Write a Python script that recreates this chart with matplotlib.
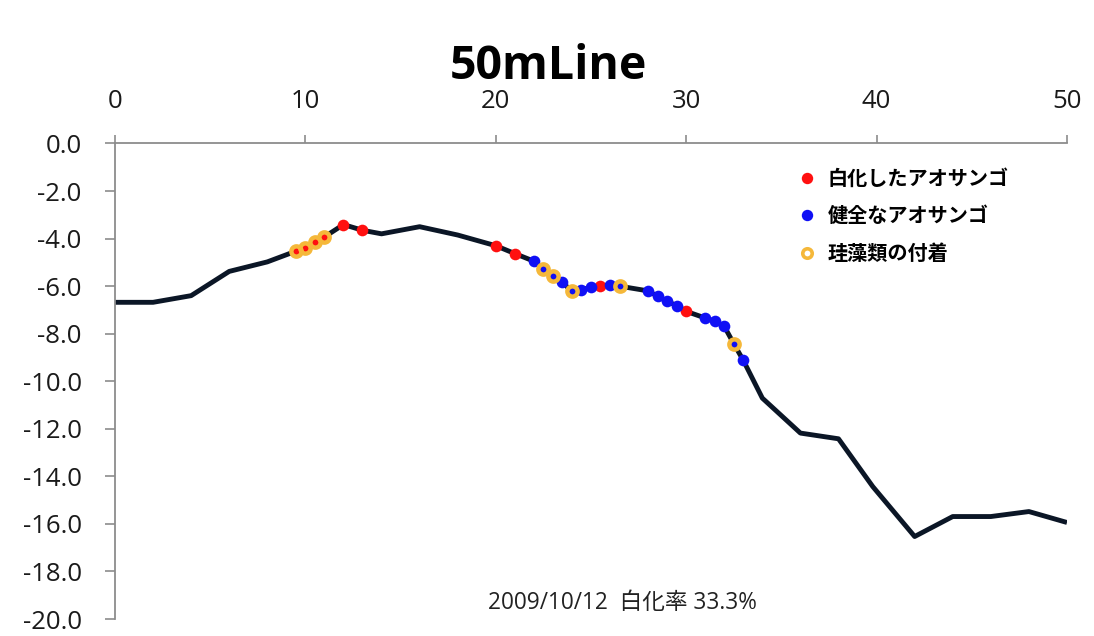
import matplotlib
matplotlib.use("Agg")
import matplotlib.pyplot as plt
from matplotlib.lines import Line2D

# ---- data (distance along line [m], depth [m]) ----
profile_x = [0, 2, 4, 6, 8, 9.5, 10, 10.5, 11, 12, 13, 14, 16, 18, 20, 21, 22, 22.5, 23,
             23.5, 24, 24.5, 25, 25.5, 26, 26.5, 28, 28.5, 29, 29.5, 30, 31, 31.5, 32,
             32.5, 33, 34, 36, 38, 39.8, 42, 44, 46, 48, 50]
profile_depth = [-6.68, -6.68, -6.4, -5.38, -4.98, -4.53, -4.39, -4.15, -3.93, -3.41, -3.65,
                 -3.8, -3.5, -3.85, -4.3, -4.63, -4.95, -5.28, -5.56, -5.84, -6.22, -6.15,
                 -6.05, -6.0, -5.94, -6.0, -6.2, -6.43, -6.64, -6.82, -7.06, -7.34, -7.48,
                 -7.69, -8.42, -9.12, -10.71, -12.18, -12.42, -14.43, -16.53, -15.69,
                 -15.69, -15.48, -15.94]

bleached_x = [9.5, 10, 10.5, 11, 12, 13, 20, 21, 25.5, 30]
bleached_depth = [-4.53, -4.39, -4.15, -3.93, -3.41, -3.65, -4.3, -4.63, -6.0, -7.06]

healthy_x = [22, 22.5, 23, 23.5, 24, 24.5, 25, 26, 26.5, 28, 28.5, 29, 29.5, 31, 31.5,
             32, 32.5, 33]
healthy_depth = [-4.95, -5.28, -5.56, -5.84, -6.22, -6.15, -6.05, -5.94, -6.0, -6.2, -6.43,
                 -6.64, -6.82, -7.34, -7.48, -7.69, -8.42, -9.12]

diatom_x = [9.5, 10, 10.5, 11, 22.5, 23, 24, 26.5, 32.5]
diatom_depth = [-4.53, -4.39, -4.15, -3.93, -5.28, -5.56, -6.22, -6.0, -8.42]

x_ticks = [0, 10, 20, 30, 40, 50]
y_ticks = [0, -2, -4, -6, -8, -10, -12, -14, -16, -18, -20]

title = "50mLine"
legend_labels = ["白化したアオサンゴ", "健全なアオサンゴ", "珪藻類の付着"]
footer = "2009/10/12  白化率 33.3%"

# ---- style ----
FONTS = ["Open Sans", "Noto Sans CJK JP", "DejaVu Sans"]
plt.rcParams["font.family"] = FONTS

RED = "#FF1010"
BLUE = "#1010F5"
ORANGE = "#F5B83A"
LINE = "#0B1626"
SPINE = "#8C8C8C"

fig = plt.figure(figsize=(10.94, 6.36), dpi=100)
ax = fig.add_axes([0.1051, 0.0267, 0.8702, 0.7477])

ax.plot(profile_x, profile_depth, color=LINE, lw=3.5, solid_joinstyle="round",
        solid_capstyle="butt", zorder=2)
ax.plot(bleached_x, bleached_depth, ls="none", marker="o", ms=8.4, mfc=RED, mec=RED,
        mew=0, zorder=3)
ax.plot(healthy_x, healthy_depth, ls="none", marker="o", ms=8.4, mfc=BLUE, mec=BLUE,
        mew=0, zorder=3)
ax.plot(diatom_x, diatom_depth, ls="none", marker="o", ms=7.4, mfc="none", mec=ORANGE,
        mew=3.2, zorder=4)

ax.set_xlim(0, 50)
ax.set_ylim(-20, 0)
ax.set_xticks(x_ticks)
ax.set_yticks(y_ticks)
ax.set_yticklabels([f"{v:.1f}" for v in y_ticks])
ax.xaxis.tick_top()

for s in ["right", "bottom"]:
    ax.spines[s].set_visible(False)
for s in ["left", "top"]:
    ax.spines[s].set_color(SPINE)
    ax.spines[s].set_linewidth(1.3)

ax.tick_params(axis="y", direction="out", length=7, width=1.2, color=SPINE,
               labelsize=18.5, pad=17, labelcolor="#1a1a1a")
ax.tick_params(axis="x", direction="out", length=6, width=1.2, color=SPINE,
               labelsize=18.5, pad=15, labelcolor="#1a1a1a")

handles = [
    Line2D([], [], ls="none", marker="o", ms=8.2, mfc=RED, mec=RED, mew=0),
    Line2D([], [], ls="none", marker="o", ms=8.2, mfc=BLUE, mec=BLUE, mew=0),
    Line2D([], [], ls="none", marker="o", ms=6.8, mfc="none", mec=ORANGE, mew=2.6),
]
leg = ax.legend(handles, legend_labels, loc="upper left",
                bbox_to_anchor=(0.697, 0.987), frameon=False,
                handlelength=1.0, handletextpad=0.55, labelspacing=0.82,
                prop={"family": ["Noto Sans CJK JP"], "weight": "bold", "size": 14.5})

fig.text(548 / 1094, 1 - 79 / 636, title, ha="center", va="baseline",
         fontsize=33.5, fontweight="bold", family=["Open Sans", "DejaVu Sans"])
fig.text(622 / 1094, 1 - 609 / 636, footer, ha="center", va="baseline",
         fontsize=16.3, color="#222222", family=FONTS)

fig.savefig("out.png", dpi=100, facecolor="white")
